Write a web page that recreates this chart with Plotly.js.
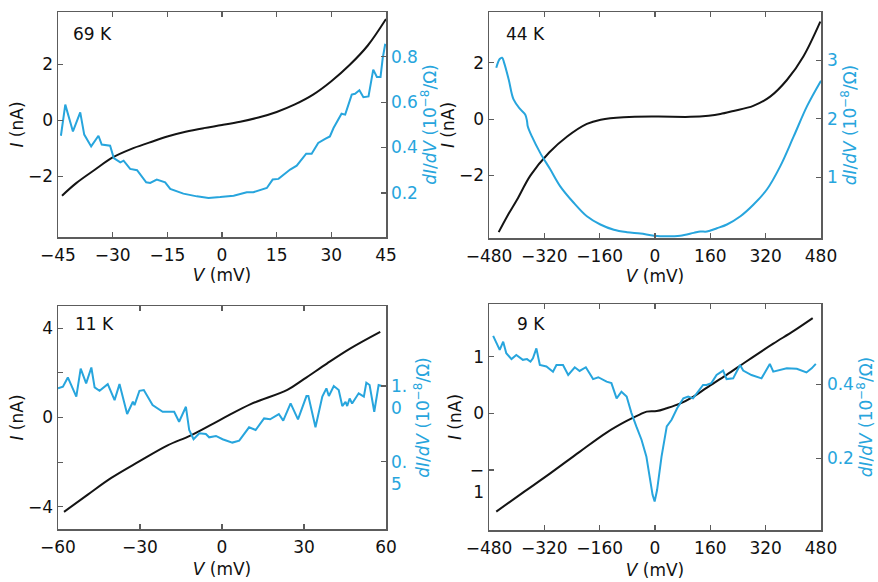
<!DOCTYPE html>
<html><head><meta charset="utf-8">
<script src="https://cdn.plot.ly/plotly-3.0.1.min.js"></script>
<style>html,body{margin:0;padding:0;background:#fff}#chart{width:878px;height:582px}</style>
</head><body><div id="chart"></div>
<script>
// ---- 69 K ----
const v69 = [-43.9,-40,-35,-30,-25,-20,-15,-10,-5,0,5,10,15,20,25,30,35,40,45];
const i69 = [-2.70,-2.25,-1.78,-1.33,-1.03,-0.80,-0.58,-0.41,-0.28,-0.17,-0.05,0.10,0.30,0.57,0.92,1.40,1.98,2.68,3.63];
const v69g = [-44.2,-43.0,-40.9,-38.9,-37.8,-35.9,-33.9,-33.0,-30.7,-29.7,-27.9,-27.0,-25.2,-23.3,-20.8,-19.7,-17.9,-15.6,-14.2,-10.6,-6.9,-3.7,-0.5,3.2,6.8,8.6,12.3,13.9,15.5,18.7,20.5,23.1,24.6,26.4,28.3,29.6,30.6,31.9,32.8,33.8,35.6,36.5,37.7,38.8,40.2,41.5,42.5,43.5,44.1,44.8];
const g69 = [0.452,0.589,0.471,0.555,0.457,0.405,0.452,0.413,0.408,0.354,0.335,0.342,0.306,0.300,0.247,0.244,0.259,0.247,0.218,0.197,0.185,0.178,0.182,0.188,0.203,0.203,0.222,0.259,0.262,0.303,0.320,0.373,0.373,0.420,0.438,0.449,0.486,0.523,0.549,0.545,0.633,0.637,0.652,0.622,0.625,0.743,0.711,0.711,0.794,0.857];
// ---- 44 K ----
const v44 = [-452,-428,-399,-360,-306,-254,-197,-157,-91,8,102,155,189,227,284,333,382,429,478];
const i44 = [-4.02,-3.47,-2.87,-2.00,-1.19,-0.62,-0.17,-0.02,0.07,0.09,0.08,0.12,0.18,0.29,0.47,0.80,1.40,2.23,3.47];
const v44g = [-459,-449,-442,-436,-423,-409,-389,-375,-370,-368,-356,-332,-303,-274,-235,-197,-158,-119,-81,-42,-3,35,73,112,131,150,179,208,247,285,324,362,401,440,480];
const g44 = [2.87,3.02,3.04,2.95,2.67,2.33,2.16,2.07,1.96,1.875,1.70,1.42,1.14,0.85,0.57,0.34,0.20,0.11,0.068,0.045,0.01,0.0,0.01,0.057,0.08,0.08,0.136,0.20,0.34,0.54,0.80,1.19,1.70,2.22,2.65];
// ---- 11 K ----
const v11 = [-57.8,-49.1,-40.5,-30.3,-19.9,-11.4,0,10.5,23.9,30.1,38.5,47.0,57.9];
const i11 = [-4.23,-3.46,-2.71,-1.97,-1.25,-0.80,-0.06,0.60,1.24,1.73,2.43,3.10,3.84];
const v11g = [-60,-58.2,-56.4,-53.3,-51.7,-49.7,-47.8,-46.6,-44.8,-41.8,-39.3,-37.5,-34.7,-32.6,-32.0,-30.2,-28.6,-25.4,-21.7,-17.5,-15.7,-13.2,-12.0,-10.4,-8.3,-5.9,-4.7,-2.2,0.2,3.8,6.3,9.9,12.3,15.4,17.6,20.8,22.4,25.1,27.8,30.9,31.6,34.2,36.7,38.2,39.1,40.9,42.7,44.0,45.2,45.8,46.7,47.6,50.0,51.9,52.8,54.0,55.7,57.3,58.5];
const g11 = [0.985,0.996,1.057,0.93,1.115,1.018,1.123,0.991,0.969,1.013,0.907,1.013,0.815,0.896,0.874,0.969,0.974,0.874,0.830,0.830,0.764,0.863,0.709,0.648,0.687,0.683,0.661,0.670,0.648,0.626,0.639,0.727,0.709,0.786,0.78,0.815,0.771,0.885,0.78,0.934,0.934,0.727,0.93,0.985,0.934,1.0,0.974,0.868,0.896,0.868,0.918,0.885,0.952,0.93,1.022,1.007,0.83,1.007,1.0];
// ---- 9 K ----
const v9 = [-459,-382,-304,-218,-140,-82,-43,-24,5,34,72,110,149,207,265,342,400,456];
const i9 = [-1.735,-1.40,-1.065,-0.68,-0.34,-0.135,-0.018,0.03,0.04,0.09,0.17,0.29,0.45,0.68,0.92,1.23,1.45,1.68];
const v9g = [-468,-457,-449,-439,-430,-415,-401,-382,-370,-360,-353,-343,-333,-314,-295,-285,-266,-251,-232,-218,-200,-179,-164,-140,-126,-111,-97,-82,-68,-54,-39,-25,-15,-7,-1,6,19,34,48,64,82,96,110,125,139,149,163,178,197,207,226,246,255,279,308,332,342,381,410,438,453,465];
const g9 = [0.531,0.511,0.493,0.515,0.484,0.468,0.479,0.466,0.468,0.461,0.470,0.497,0.452,0.448,0.434,0.452,0.452,0.425,0.446,0.436,0.446,0.414,0.419,0.407,0.403,0.362,0.380,0.367,0.322,0.286,0.250,0.205,0.150,0.101,0.083,0.114,0.205,0.286,0.304,0.335,0.362,0.367,0.362,0.380,0.398,0.398,0.403,0.425,0.437,0.414,0.416,0.452,0.437,0.425,0.416,0.455,0.434,0.443,0.442,0.432,0.443,0.455];
// ---- tick labels ----
const ticks69 = [-45,-30,-15,0,15,30,45];
const ticks480 = [-480,-320,-160,0,160,320,480];
const ticks60 = [-60,-30,0,30,60];
const labels11R = ['0.<br>5','1.<br>0'];
const labels9L = ['−<br>1','0<br>&nbsp;','1<br>&nbsp;'];
const tempLabels = ['69 K','44 K','11 K','9 K'];

const BLUE='#27a5dd', BLACK='#141414', AX='#5c5c5c';
const FONT='DejaVu Sans, Verdana, sans-serif';
const FS=17;
const TK = {ticks:'inside', ticklen:5, tickcolor:AX, tickwidth:1.2};

function xa(domain, anchor, range, tickvals, lso, tso){
  return Object.assign({domain, anchor, range, tickvals,
    showline:true, linecolor:AX, linewidth:1.5, mirror:'ticks', zeroline:false, showgrid:false,
    ticklabelstandoff:lso, tickfont:{size:FS,color:'#111'},
    title:{text:'<i>V</i> (mV)', font:{size:FS,color:'#111'}, standoff:tso}}, TK);
}
function yl(domain, anchor, range, tickvals, so, tso){
  return Object.assign({domain, anchor, range, tickvals,
    showline:true, linecolor:AX, linewidth:1.5, zeroline:false, showgrid:false,
    ticklabelstandoff:so, tickfont:{size:FS,color:'#111'},
    title:{text:'<i>I</i> (nA)', font:{size:FS,color:'#111'}, standoff:tso}}, TK);
}
function yr(overlay, anchor, range, tickvals, so, tso){
  return Object.assign({overlaying:overlay, side:'right', anchor, range, tickvals,
    showline:true, linecolor:AX, linewidth:1.5, zeroline:false, showgrid:false,
    ticklabelstandoff:so, tickfont:{size:FS,color:BLUE},
    title:{text:'<i>dI</i>/<i>dV</i> (10<sup>−8</sup>/Ω)', font:{size:FS,color:BLUE}, standoff:tso}}, TK);
}

const dx1=[58/878,386/878], dx2=[489/878,821/878];
const dyT1=[1-237/582,1-12/582], dyT2=[1-238/582,1-12/582];
const dyB1=[1-529/582,1-306/582], dyB2=[1-530/582,1-304/582];

const bl = {color:BLACK,width:2,shape:'spline'};
const bu = {color:BLUE,width:2};
const traces = [
  {x:v69, y:i69, xaxis:'x', yaxis:'y', mode:'lines', line:bl},
  {x:v69g, y:g69, xaxis:'x', yaxis:'y2', mode:'lines', line:bu},
  {x:v44, y:i44, xaxis:'x2', yaxis:'y3', mode:'lines', line:bl},
  {x:v44g, y:g44, xaxis:'x2', yaxis:'y4', mode:'lines', line:{color:BLUE,width:2,shape:'spline'}},
  {x:v11, y:i11, xaxis:'x3', yaxis:'y5', mode:'lines', line:bl},
  {x:v11g, y:g11, xaxis:'x3', yaxis:'y6', mode:'lines', line:bu},
  {x:v9, y:i9, xaxis:'x4', yaxis:'y7', mode:'lines', line:bl},
  {x:v9g, y:g9, xaxis:'x4', yaxis:'y8', mode:'lines', line:bu}
];

const ann = (t,x,y)=>({text:t, xref:'paper', yref:'paper', x:x/878, y:1-y/582, xanchor:'left', yanchor:'middle', showarrow:false, font:{size:FS,color:'#111'}});

const y5 = yl(dyB1,'x3',[-5,5],[-4,0,4],0,0);
y5.minor = {tickmode:'array', tickvals:[-2,2], ticks:'inside', ticklen:5, tickcolor:AX, tickwidth:1.2};
const y6 = yr('y5','x3',[0.054,1.53],[0.5,1.0],0,11);
y6.ticktext = labels11R; y6.ticklabelshift = 11;
const y7 = yl(dyB2,'x4',[-2.06,1.93],[-1,0,1],0,4);
y7.ticktext = labels9L; y7.ticklabelshift = 11;

const layout = {
  width:878, height:582, margin:{l:0,r:0,t:0,b:0}, showlegend:false,
  paper_bgcolor:'#fff', plot_bgcolor:'#fff', font:{family:FONT, size:FS, color:'#111'},
  xaxis: xa(dx1,'y',[-45,45],ticks69,2,1),
  yaxis: yl(dyT1,'x',[-4.18,3.88],[-2,0,2],0,0),
  yaxis2: yr('y','x',[0.006,0.997],[0.2,0.4,0.6,0.8],0,0),
  xaxis2: xa(dx2,'y3',[-480,480],ticks480,2,1),
  yaxis3: yl(dyT2,'x2',[-4.23,3.81],[-2,0,2],0,0),
  yaxis4: yr('y3','x2',[-0.03,3.82],[1,2,3],1,3),
  xaxis3: xa(dx1,'y5',[-60,60],ticks60,2,7),
  yaxis5: y5,
  yaxis6: y6,
  xaxis4: xa(dx2,'y7',[-480,480],ticks480,2,7),
  yaxis7: y7,
  yaxis8: yr('y7','x4',[0.006,0.617],[0.2,0.4],1,3),
  annotations:[ann(tempLabels[0],71,34), ann(tempLabels[1],504,33.5), ann(tempLabels[2],73,324), ann(tempLabels[3],515,323.5)]
};
Plotly.newPlot('chart', traces, layout, {staticPlot:true});
</script></body></html>
